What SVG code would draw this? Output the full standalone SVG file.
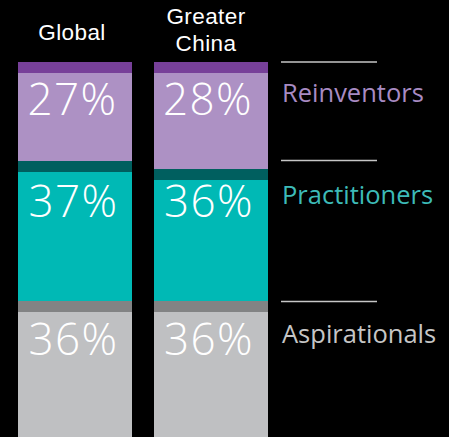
<svg xmlns="http://www.w3.org/2000/svg" width="449" height="437" viewBox="0 0 449 437">
<style>
.hdr{font-family:"Liberation Sans",Arial,sans-serif;font-size:22.5px;letter-spacing:0.4px;fill:#ffffff;text-anchor:middle}
.pct{font-family:"Open Sans","Liberation Sans",sans-serif;font-weight:300;font-size:44px;letter-spacing:1.5px;fill:#ffffff;text-anchor:middle}
.lbl{font-family:"Open Sans","Liberation Sans",sans-serif;font-size:25.5px}
.rule{stroke:#c6c6c6;stroke-width:1.5}
</style>
<rect x="0" y="0" width="449" height="437" fill="#000000"/>
<g id="header-global"><text class="hdr" x="72" y="40">Global</text></g>
<g id="header-china"><text class="hdr" x="206" y="24">Greater</text><text class="hdr" x="206" y="51">China</text></g>
<g id="bar-global">
<rect x="18" y="62" width="114" height="11" fill="#774099"/>
<rect x="18" y="73" width="114" height="88" fill="#ad91c4"/>
<rect x="18" y="161" width="114" height="11" fill="#005f5f"/>
<rect x="18" y="172" width="114" height="129" fill="#00b9b5"/>
<rect x="18" y="301" width="114" height="11" fill="#828384"/>
<rect x="18" y="312" width="114" height="125" fill="#bfc0c2"/>
<text class="pct" x="72.5" y="115">27%</text>
<text class="pct" x="73.5" y="217">37%</text>
<text class="pct" x="73.5" y="355">36%</text>
</g>
<g id="bar-china">
<rect x="154" y="62" width="114" height="11" fill="#774099"/>
<rect x="154" y="73" width="114" height="96" fill="#ad91c4"/>
<rect x="154" y="169" width="114" height="11" fill="#005f5f"/>
<rect x="154" y="180" width="114" height="121" fill="#00b9b5"/>
<rect x="154" y="301" width="114" height="11" fill="#828384"/>
<rect x="154" y="312" width="114" height="125" fill="#bfc0c2"/>
<text class="pct" x="208" y="115">28%</text>
<text class="pct" x="209" y="217">36%</text>
<text class="pct" x="209" y="355">36%</text>
</g>
<g id="connectors">
<line class="rule" x1="281" y1="62" x2="377" y2="62"/>
<line class="rule" x1="281" y1="160.5" x2="377" y2="160.5"/>
<line class="rule" x1="281" y1="301.5" x2="377" y2="301.5"/>
</g>
<g id="legend-reinventors"><text class="lbl" x="282" y="102" fill="#a88bc3">Reinventors</text></g>
<g id="legend-practitioners"><text class="lbl" x="282" y="204" fill="#3dbbb8">Practitioners</text></g>
<g id="legend-aspirationals"><text class="lbl" x="282" y="343" fill="#c6c6c6">Aspirationals</text></g>
</svg>
